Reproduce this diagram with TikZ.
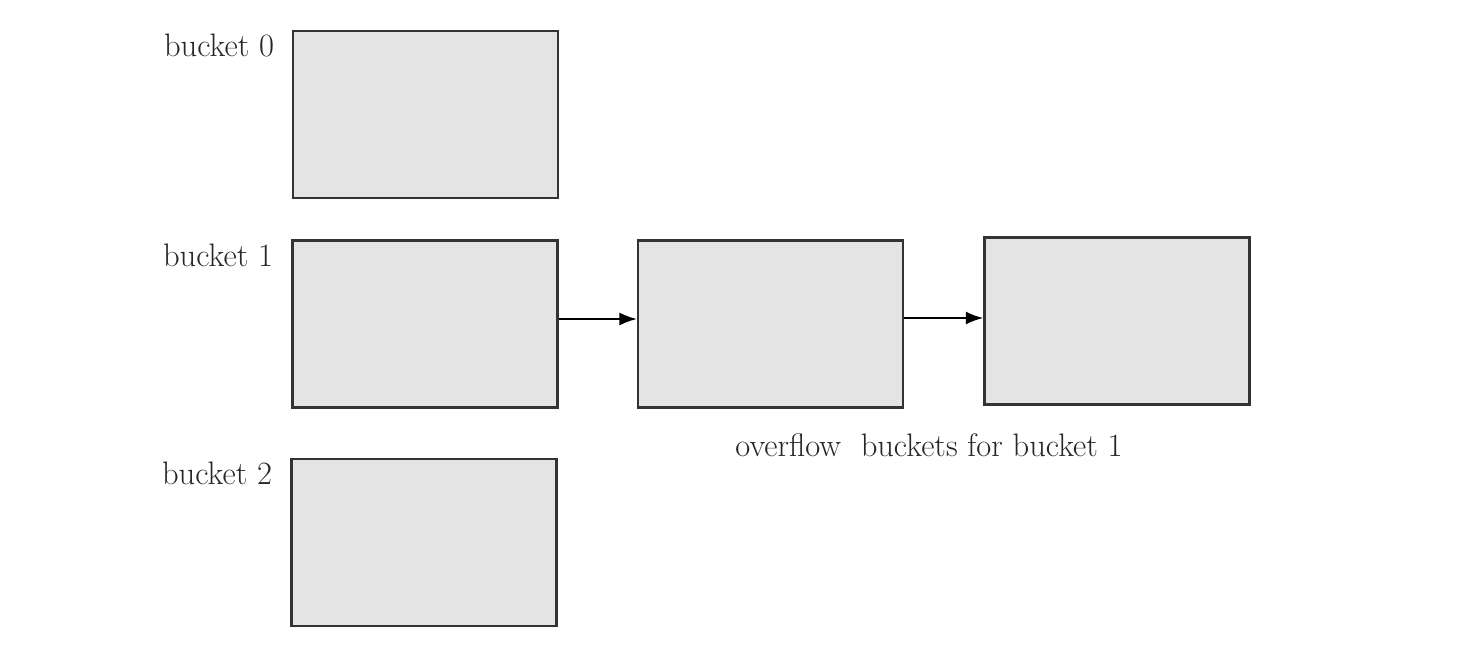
\documentclass[tikz,border=0pt]{standalone}
\usepackage{tikz}
\usetikzlibrary{arrows.meta}
\definecolor{bucketfill}{HTML}{E4E4E4}
\definecolor{bucketline}{HTML}{333333}

\begin{document}
\begin{tikzpicture}[bucket/.style={rectangle, draw=bucketline, line width=1.3pt, fill=bucketfill, minimum width=5.3cm, minimum height=3.34cm, inner sep=0pt},
	lbl/.style={font=\fontsize{18.5}{22}\selectfont, text=black!85}]
	\useasboundingbox (0,0) rectangle (29.54,-13.28);
	\node[bucket] at (8.51,-2.29) (b0) {};
	\node[bucket] at (8.5,-6.48) (b1) {};
	\node[bucket] at (8.48,-10.85) (b2) {};
	\node[bucket] at (15.41,-6.48) (o1) {};
	\node[bucket] at (22.34,-6.42) (o2) {};

	\node[lbl] at (4.38,-0.9) (l0) {bucket 0};
	\node[lbl] at (4.36,-5.1) (l1) {bucket 1};
	\node[lbl] at (4.34,-9.46) (l2) {bucket 2};
	\node[lbl] at (18.58,-8.9) (lo) {overflow\ \ buckets for bucket 1};

	\draw[-{Latex[length=3.5mm,width=2.6mm]}, line width=1pt] (b1.east |- 0,-6.38) -- (o1.west |- 0,-6.38);
	\draw[-{Latex[length=3.5mm,width=2.6mm]}, line width=1.2pt] (o1.east |- 0,-6.36) -- (o2.west |- 0,-6.36);
\end{tikzpicture}
\end{document}
